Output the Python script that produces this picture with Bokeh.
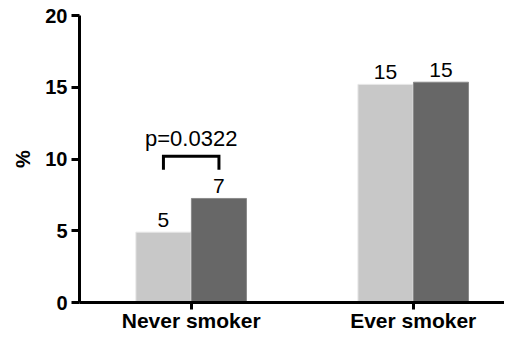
from bokeh.plotting import figure
from bokeh.models import Range1d, FixedTicker, ColumnDataSource
from bokeh.core.properties import value
from bokeh.embed import file_html
from bokeh.resources import INLINE

# ---- data ----
categories = ["Never smoker", "Ever smoker"]
series_a = [4.9, 15.2]      # light grey bars (%)
series_b = [7.25, 15.35]    # dark grey bars (%)
labels_a = ["5", "15"]
labels_b = ["7", "15"]
p_text = "p=0.0322"
bracket_top = 10.2
bracket_leg = 9.25
y_ticks = [0, 5, 10, 15, 20]

FONT = "Liberation Sans"
LIGHT = "#c8c8c8"
DARK = "#676767"
offset = 0.125
bar_w = 0.248

xs = list(range(len(categories)))

p = figure(width=504, height=334, output_backend="svg", toolbar_location=None,
           x_range=Range1d(-0.503, 1.411), y_range=Range1d(0, 20),
           min_border_left=79, min_border_right=0, min_border_top=15, min_border_bottom=20)
p.outline_line_color = None
p.xgrid.grid_line_color = None
p.ygrid.grid_line_color = None

src = ColumnDataSource(dict(
    xa=[x - offset for x in xs], xb=[x + offset for x in xs],
    a=series_a, b=series_b, la=labels_a, lb=labels_b))

p.vbar(x="xa", top="a", bottom=0, width=bar_w, source=src,
       fill_color=LIGHT, line_color="#e6e6e6", line_width=1)
p.vbar(x="xb", top="b", bottom=0, width=bar_w, source=src,
       fill_color=DARK, line_color="#8a8a8a", line_width=1)

p.text(x="xa", y="a", text="la", source=src, text_align="center", text_baseline="bottom",
       y_offset=-5, text_font=value(FONT), text_font_size="21px", text_color="black")
p.text(x="xb", y="b", text="lb", source=src, text_align="center", text_baseline="bottom",
       y_offset=-5, text_font=value(FONT), text_font_size="21px", text_color="black")

# significance bracket over first category
bx0 = xs[0] - offset
bx1 = xs[0] + offset
p.line(x=[bx0, bx0, bx1, bx1], y=[bracket_leg, bracket_top, bracket_top, bracket_leg],
       line_color="black", line_width=3, line_join="miter")
p.text(x=[xs[0]], y=[bracket_top], text=[p_text], text_align="center",
       text_baseline="bottom", y_offset=-5, text_font=value(FONT),
       text_font_size="22px", text_color="black")

# axes
for ax in (p.xaxis[0], p.yaxis[0]):
    ax.axis_line_width = 3
    ax.axis_line_color = "black"
    ax.major_tick_line_width = 3
    ax.major_tick_line_color = "black"
    ax.major_tick_in = 0
    ax.minor_tick_line_color = None
    ax.major_label_text_font = FONT
    ax.major_label_text_font_style = "bold"
    ax.major_label_text_color = "black"

p.xaxis.ticker = FixedTicker(ticks=xs)
p.xaxis.major_label_overrides = {i: c for i, c in enumerate(categories)}
p.xaxis.major_label_text_font_size = "21px"
p.xaxis.major_tick_out = 7
p.xaxis.major_label_standoff = -1

p.yaxis.ticker = FixedTicker(ticks=y_ticks)
p.yaxis.major_label_text_font_size = "20px"
p.yaxis.major_tick_out = 8
p.yaxis.major_label_standoff = 4
p.yaxis.axis_label = "%"
p.yaxis.axis_label_text_font = FONT
p.yaxis.axis_label_text_font_style = "bold"
p.yaxis.axis_label_text_font_size = "20px"
p.yaxis.axis_label_text_color = "black"
p.yaxis.axis_label_standoff = 8

open("out.html", "w").write(file_html(p, INLINE))
